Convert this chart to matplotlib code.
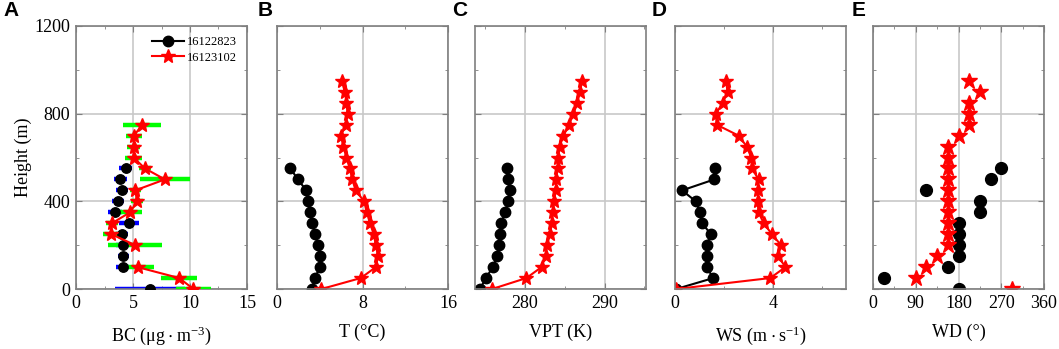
import numpy as np
import matplotlib
matplotlib.use("Agg")
import matplotlib.pyplot as plt
from matplotlib.ticker import MultipleLocator

nan = np.nan
height = np.arange(0, 1000, 50)  # 0..950 m

# 16122823 (black), 0..550 m
bc_black = [6.5, nan, 4.1, 4.15, 4.1, 4.05, 4.65, 3.45, 3.7, 4.05, 3.9, 4.35]
bc_black_err = [3.1, nan, 0.55, 0.5, 0.55, 0.5, 0.85, 0.6, 0.55, 0.55, 0.55, 0.55]
t_black = [3.24, 3.56, 4.0, 4.06, 3.84, 3.53, 3.3, 3.05, 2.93, 2.74, 1.95, 1.26]
vpt_black = [274.4, 275.1, 276.0, 276.5, 276.75, 276.9, 277.05, 277.5, 277.9, 278.1, 277.9, 277.8]
ws_black = [0.05, 1.57, 1.29, 1.29, 1.29, 1.47, 1.11, 1.02, 0.85, 0.29, 1.61, 1.64]
wd_black = [180, 22.5, 157.5, 180, 180, 180, 180, 225, 225, 112.5, 247.5, 270]

# 16123102 (red), 0..950 m
bc_red = [10.3, 9.05, 5.4, nan, 5.2, 3.1, 3.15, 4.75, 5.35, 5.2, 7.8, 6.05,
          5.05, 5.05, 5.1, 5.8, nan, nan, nan, nan]
bc_red_err = [1.55, 1.6, 1.45, nan, 2.35, 0.7, 0.5, 1.0, 0.5, 0.5, 2.2, 0.5,
              0.75, 0.6, 0.7, 1.65, nan, nan, nan, nan]
t_red = [4.16, 7.84, 9.25, 9.45, 9.25, 9.05, 8.7, 8.4, 8.15, 7.35, 7.05, 6.8,
         6.5, 6.2, 5.98, 6.43, 6.6, 6.5, 6.35, 6.05]
vpt_red = [275.9, 280.2, 282.1, 282.6, 282.8, 283.15, 283.4, 283.5, 283.7, 283.85,
           283.95, 284.1, 284.2, 284.35, 284.85, 285.55, 286.1, 286.6, 286.9, 287.2]
ws_red = [0.05, 3.9, 4.52, 4.22, 4.34, 3.97, 3.63, 3.42, 3.38, 3.4, 3.42, 3.15,
          3.12, 2.94, 2.6, 1.7, 1.68, 1.95, 2.15, 2.09]
wd_red = [292.5, 90, 112.5, 135, 157.5, 157.5, 157.5, 157.5, 157.5, 157.5, 157.5,
          157.5, 157.5, 157.5, 180, 202.5, 202.5, 202.5, 225, 202.5]

h_black = height[:12]

plt.rcParams["font.family"] = ["Liberation Serif", "DejaVu Serif"]
fig = plt.figure(figsize=(10.59, 3.49), dpi=100)

W, H = 1059, 349
lefts = [76, 277, 475, 675, 873]
aw = 171
top, bot = 26, 289
axes = [fig.add_axes([l / W, 1 - bot / H, aw / W, (bot - top) / H]) for l in lefts]

spine_c = "#7f7f7f"
grid_c = "#c8c8c8"
blk = dict(color="black", marker="o", markersize=7.5, lw=1.5)
red = dict(color="red", marker="*", markersize=10.5, lw=1.5)

# A: BC
ax = axes[0]
ax.errorbar(bc_black, h_black, xerr=bc_black_err, fmt="none", ecolor="blue",
            elinewidth=3.2, capsize=0, zorder=2)
ax.errorbar(bc_red, height, xerr=bc_red_err, fmt="none", ecolor="#00ff00",
            elinewidth=3.2, capsize=0, zorder=3)
ax.plot(bc_black, h_black, ls="none", color="black", marker="o", markersize=6.8, zorder=4)
ax.plot(bc_red, height, zorder=5, **red)
# legend handles
ax.plot([], [], label="16122823", **blk)
ax.plot([], [], label="16123102", **red)
ax.set_xlim(0, 15)
ax.xaxis.set_major_locator(MultipleLocator(5))
ax.xaxis.set_minor_locator(MultipleLocator(2.5))
ax.set_xlabel(r"BC ($\mathregular{\mu g\cdot m^{-3}}$)", fontsize=13, labelpad=9)
ax.set_ylabel("Height (m)", fontsize=13, labelpad=2)
ax.legend(loc="upper right", frameon=False, fontsize=9, handlelength=2.6,
          handletextpad=0.2, borderaxespad=0.4, labelspacing=0.3)

# B: T
ax = axes[1]
ax.plot(t_black, h_black, **blk)
ax.plot(t_red, height, **red)
ax.set_xlim(0, 16)
ax.xaxis.set_major_locator(MultipleLocator(8))
ax.xaxis.set_minor_locator(MultipleLocator(4))
ax.set_xlabel("T (°C)", fontsize=13, labelpad=9)

# C: VPT
ax = axes[2]
ax.plot(vpt_black, h_black, **blk)
ax.plot(vpt_red, height, **red)
ax.set_xlim(273.75, 295.2)
ax.xaxis.set_major_locator(MultipleLocator(10))
ax.xaxis.set_minor_locator(MultipleLocator(5))
ax.set_xlabel("VPT (K)", fontsize=13, labelpad=9)

# D: WS
ax = axes[3]
ax.plot(ws_black, h_black, **blk)
ax.plot(ws_red, height, **red)
ax.set_xlim(0, 7)
ax.xaxis.set_major_locator(MultipleLocator(4))
ax.xaxis.set_minor_locator(MultipleLocator(2))
ax.set_xlabel(r"WS ($\mathregular{m\cdot s^{-1}}$)", fontsize=13, labelpad=9)

# E: WD
ax = axes[4]
ax.plot(wd_black, h_black, ls="none", color="black", marker="o", markersize=8.5)
ax.plot(wd_red, height, ls="none", color="red", marker="*", markersize=12)
ax.set_xlim(0, 360)
ax.xaxis.set_major_locator(MultipleLocator(90))
ax.xaxis.set_minor_locator(MultipleLocator(45))
ax.set_xlabel("WD (°)", fontsize=13, labelpad=9)

for i, ax in enumerate(axes):
    ax.set_ylim(0, 1200)
    ax.yaxis.set_major_locator(MultipleLocator(400))
    ax.yaxis.set_minor_locator(MultipleLocator(200))
    ax.grid(True, which="major", color=grid_c, lw=1.2, zorder=0)
    ax.set_axisbelow(True)
    for s in ax.spines.values():
        s.set_color(spine_c)
        s.set_linewidth(1.2)
    ax.tick_params(which="both", direction="in", top=True, right=True,
                   color=spine_c, labelsize=13, pad=4)
    ax.tick_params(which="major", length=4)
    ax.tick_params(which="minor", length=2.5)
    if i > 0:
        ax.tick_params(axis="y", labelleft=False)

letters = ["A", "B", "C", "D", "E"]
letter_x = [3, 258, 452, 652, 852]
for lx, lt in zip(letter_x, letters):
    fig.text(lx / W, 1 - 1 / H, lt, fontsize=15, fontweight="bold",
             family="Liberation Sans", ha="left", va="top")

fig.savefig("out.png", dpi=100)
